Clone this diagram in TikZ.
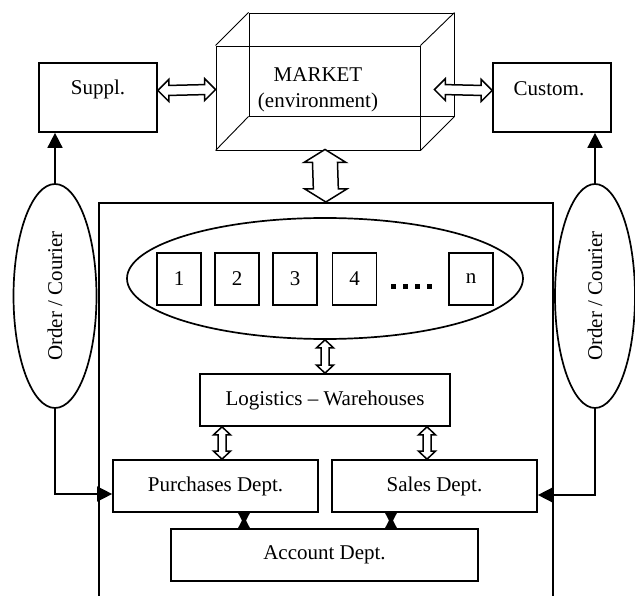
\documentclass[tikz,border=0pt]{standalone}
\usepackage{fontspec}
\setmainfont{Liberation Serif}
\usetikzlibrary{arrows.meta,calc,shapes.geometric}
\newcommand\hollowH[5]{%
  \draw[hollowarrow] (#1) -- ($(#1)+(#5,-#4)$) -- ($(#1)+(#5,-#3)$) -- ($(#2)+(-#5,-#3)$) -- ($(#2)+(-#5,-#4)$) -- (#2)
   -- ($(#2)+(-#5,#4)$) -- ($(#2)+(-#5,#3)$) -- ($(#1)+(#5,#3)$) -- ($(#1)+(#5,#4)$) -- cycle;}
\newcommand\hollowV[5]{%
  \draw[hollowarrow] (#1) -- ($(#1)+(#4,#5)$) -- ($(#1)+(#3,#5)$) -- ($(#2)+(#3,-#5)$) -- ($(#2)+(#4,-#5)$) -- (#2)
   -- ($(#2)+(-#4,-#5)$) -- ($(#2)+(-#3,-#5)$) -- ($(#1)+(-#3,#5)$) -- ($(#1)+(-#4,#5)$) -- cycle;}
\newcommand\mybowtie[2]{%
  \fill (#1) -- ($(#1)+(-6,0)$) -- ($(#1)!0.5!(#2)+(-2,0)$) -- ($(#2)+(-6,0)$) -- ($(#2)+(6,0)$) -- ($(#1)!0.5!(#2)+(2,0)$) -- ($(#1)+(6,0)$) -- cycle;}
\begin{document}
\begin{tikzpicture}[x=1pt,y=-1pt,
  every node/.style={font=\fontsize{21pt}{26pt}\selectfont},
  box/.style={draw,line width=1.7pt,inner sep=0pt},
  cube/.style={draw,line width=0.9pt,inner sep=0pt},
  oval/.style={draw,ellipse,line width=1.7pt,inner sep=0pt},
  txt/.style={inner sep=0pt},
  hollowarrow/.style={draw,line width=1.5pt,fill=white,line join=miter},
  link/.style={line width=1.6pt,-{Triangle[length=15pt,width=15pt]}}]
\useasboundingbox (0,0) rectangle (635,596);
\clip (0,0) rectangle (635,596);
% outer big box (open at the bottom)
\node[box,anchor=north west,minimum width=454pt,minimum height=430pt] (big) at (98,202) {};
% market cube
\node[cube,minimum width=204pt,minimum height=104pt] (front) at (318,98) {};
\node[cube,minimum width=205pt,minimum height=103pt] (back) at (351.5,64.5) {};
\draw[line width=0.9pt] (front.north west) -- (back.north west);
\draw[line width=0.9pt] (front.north east) -- (back.north east);
\draw[line width=0.9pt] (front.south west) -- (back.south west);
\draw[line width=0.9pt] (front.south east) -- (back.south east);
\node[txt,align=center] (mtxt) at (318,90) {MARKET\\(environment)};
% supplier / customer
\node[box,minimum width=118pt,minimum height=69pt] (sup) at (98,97.5) {};
\node[txt] (suptxt) at (98,89) {Suppl.};
\node[box,minimum width=118pt,minimum height=69pt] (cus) at (552,97.5) {};
\node[txt] (custxt) at (549,89) {Custom.};
% order / courier ovals
\node[oval,minimum width=83pt,minimum height=224pt] (oL) at (55,296) {};
\node[txt,rotate=90] (oLt) at (55,296) {Order / Courier};
\node[oval,minimum width=80pt,minimum height=224pt] (oR) at (595,296) {};
\node[txt,rotate=90] (oRt) at (595,296) {Order / Courier};
% inner ellipse with units
\node[oval,minimum width=396pt,minimum height=121pt] (inE) at (325,278.5) {};
\node[box,line width=1.4pt,minimum width=44pt,minimum height=52pt] (s1) at (179,279) {1};
\node[box,line width=1.4pt,minimum width=44pt,minimum height=52pt] (s2) at (237,279) {2};
\node[box,line width=1.4pt,minimum width=44pt,minimum height=52pt] (s3) at (295,279) {3};
\node[box,line width=1.4pt,minimum width=44pt,minimum height=52pt] (s4) at (354.5,279) {4};
\node[box,line width=1.4pt,minimum width=44pt,minimum height=52pt] (sn) at (471,279) {n};
\foreach \i in {0,...,3} \fill (391+12*\i,284.5) rectangle ++(5,5);
% departments
\node[box,minimum width=250pt,minimum height=52pt] (log) at (325,400) {Logistics -- Warehouses};
\node[box,minimum width=205pt,minimum height=52pt] (pur) at (215.5,486) {Purchases Dept.};
\node[box,minimum width=205pt,minimum height=52pt] (sal) at (434.5,486) {Sales Dept.};
\node[box,minimum width=307pt,minimum height=52pt] (acc) at (324.5,555) {Account Dept.};
% hollow arrows
\coordinate (supA) at ($(sup.north east)!0.4!(sup.south east)$);
\coordinate (mktA) at ($(front.north west)!0.42!(front.south west)$);
\coordinate (mktB) at ($(front.north east)!0.42!(front.south east)+(14,0)$);
\coordinate (cusA) at ($(cus.north west)!0.4!(cus.south west)$);
\hollowH{supA}{mktA}{5}{11}{11}
\hollowH{mktB}{cusA}{5}{11}{11}
\coordinate (mktC) at ([xshift=7pt,yshift=1pt]front.south);
\hollowV{mktC}{big.north}{12.5}{21}{13}
\hollowV{inE.south}{log.north}{4}{8.5}{8}
\coordinate (logP) at ([xshift=-103pt]log.south);
\coordinate (purL) at ([xshift=6.5pt]pur.north);
\hollowV{logP}{purL}{4}{8.5}{8}
\coordinate (logS) at ([xshift=102pt]log.south);
\coordinate (salL) at ([xshift=-7.5pt]sal.north);
\hollowV{logS}{salL}{4}{8.5}{8}
% bowties
\coordinate (bt1) at ([xshift=28.5pt]pur.south);
\coordinate (bb1) at ([xshift=-80.5pt]acc.north);
\mybowtie{bt1}{bb1}
\coordinate (bt2) at ([xshift=-43.5pt]sal.south);
\coordinate (bb2) at ([xshift=66.5pt]acc.north);
\mybowtie{bt2}{bb2}
% order links
\draw[link] (oL.north) -- (oL.north |- sup.south);
\draw[link] (oR.north) -- (oR.north |- cus.south);
\coordinate (cL) at ([yshift=-8pt]pur.west);
\coordinate (cR) at ([yshift=-9pt]sal.east);
\draw[link] (oL.south) |- (cL);
\draw[link] (oR.south) |- (cR);
\end{tikzpicture}
\end{document}
